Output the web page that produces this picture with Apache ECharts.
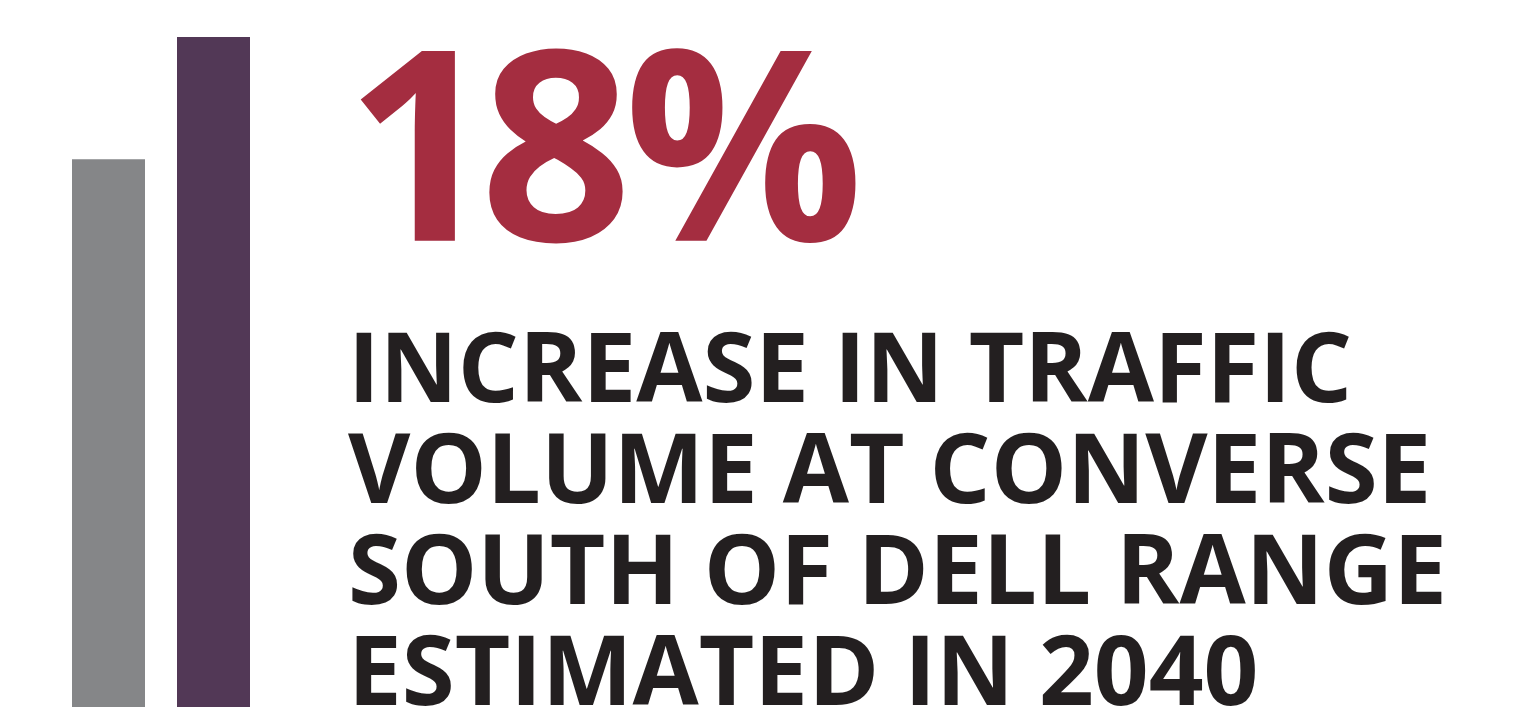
<!DOCTYPE html>
<html>
<head>
<meta charset="utf-8">
<style>
html,body{margin:0;padding:0;background:#ffffff;}
#chart{width:1535px;height:709px;}
</style>
<script src="https://cdn.jsdelivr.net/npm/echarts@6/dist/echarts.min.js"></script>
</head>
<body>
<div id="chart"></div>
<script>
// Data
var categories = ['Current', '2040'];
var values = [100, 122.3];
var barColors = ['#858688', '#523856'];
var headline = '18%';
var captionLines = ['INCREASE IN TRAFFIC', 'VOLUME AT CONVERSE', 'SOUTH OF DELL RANGE', 'ESTIMATED IN 2040'];

// layout (tight tracking of the big headline)
var headlineLefts = [345, 480, 624];

var chart = echarts.init(document.getElementById('chart'));
var headlineGraphics = headline.split('').map(function (ch, i) {
  return {
    type: 'text', left: headlineLefts[i], top: 32,
    style: { text: ch, fill: '#a42d40', font: '700 266px "Open Sans"' }
  };
});
var option = {
  animation: false,
  backgroundColor: '#ffffff',
  grid: { left: 56, width: 210, top: 37, bottom: 2, containLabel: false },
  xAxis: {
    type: 'category', data: categories,
    axisLine: { show: false }, axisTick: { show: false }, axisLabel: { show: false }, splitLine: { show: false }
  },
  yAxis: {
    type: 'value', min: 0, max: values[1],
    axisLine: { show: false }, axisTick: { show: false }, axisLabel: { show: false }, splitLine: { show: false }
  },
  series: [{
    type: 'bar',
    barWidth: 73,
    data: values.map(function (v, i) { return { value: v, itemStyle: { color: barColors[i] } }; })
  }],
  graphic: headlineGraphics.concat([
    {
      type: 'text', left: 348, top: 324,
      style: {
        text: captionLines.join('\n'), fill: '#231f20',
        font: '700 96px "Open Sans"', lineHeight: 101
      }
    }
  ])
};
chart.setOption(option);
</script>
</body>
</html>
